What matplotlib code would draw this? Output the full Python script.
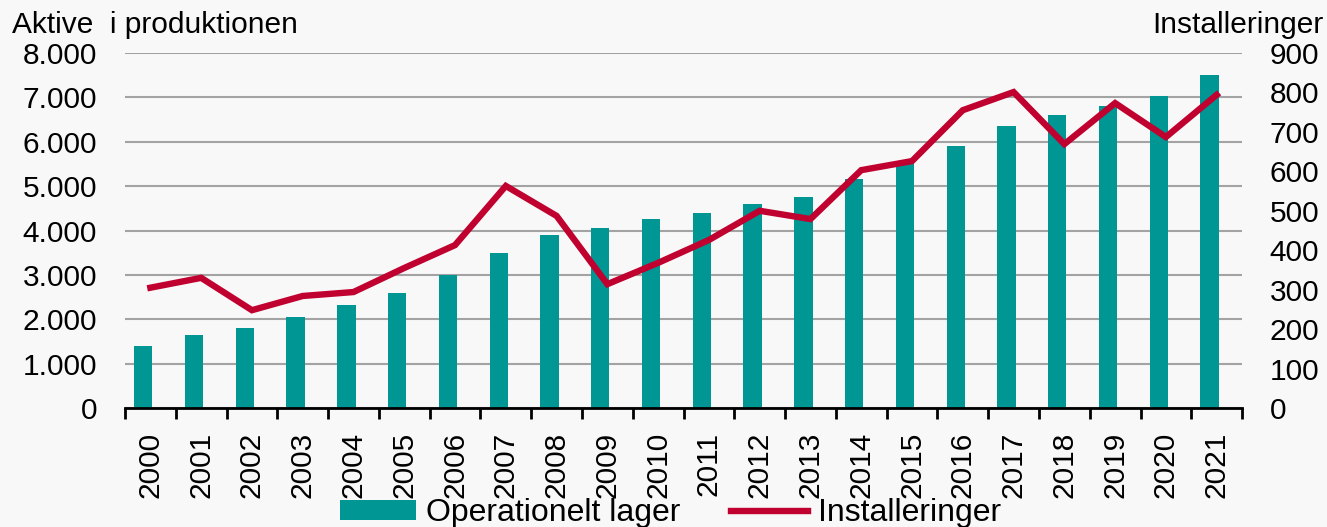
import matplotlib.pyplot as plt
import numpy as np
from matplotlib.ticker import FuncFormatter, FixedLocator

years = [str(y) for y in range(2000, 2022)]
# operational stock (left axis)
lager = [1400, 1650, 1800, 2050, 2330, 2600, 3000, 3500, 3900, 4050, 4250,
         4400, 4600, 4750, 5150, 5500, 5900, 6350, 6600, 6800, 7030, 7500]
# installations (right axis)
install = [305, 330, 248, 284, 294, 355, 413, 563, 487, 314, 368,
           426, 500, 479, 603, 626, 755, 801, 669, 773, 687, 794]

teal = "#009694"
red = "#c0002f"
bg = "#f7f8f7"

plt.rcParams['font.family'] = ['Liberation Sans', 'DejaVu Sans']
plt.rcParams['font.size'] = 21.5

fig = plt.figure(figsize=(13.27, 5.27), dpi=100, facecolor=bg)
ax = fig.add_axes([0.0942, 0.2258, 0.8418, 0.6736])
ax.set_facecolor(bg)
x = np.arange(len(years))

ax.bar(x - 0.14, lager, width=0.36, color=teal, zorder=2, label="Operationelt lager")
ax.set_ylim(0, 8000)
ax.set_xlim(-0.5, len(years) - 0.5)
ax.set_yticks(range(0, 8001, 1000))
ax.yaxis.set_major_formatter(FuncFormatter(lambda v, p: f"{int(v):,}".replace(",", ".")))
ax.grid(axis="y", color="#a3a3a3", linewidth=1.5, zorder=0)
ax.tick_params(axis="y", length=0, pad=20)

ax.set_xticks(x)
ax.set_xticklabels(years, rotation=90)
ax.xaxis.set_minor_locator(FixedLocator(np.arange(-0.5, len(years), 1)))
ax.tick_params(axis="x", which="major", length=0, pad=17)
ax.tick_params(axis="x", which="minor", length=8, width=2, color="black")

for s in ["left", "right", "top"]:
    ax.spines[s].set_visible(False)
ax.spines["bottom"].set_linewidth(2)

ax2 = ax.twinx()
ax2.plot(x, install, color=red, linewidth=4.6, zorder=3, label="Installeringer",
         solid_joinstyle="miter")
ax2.set_ylim(0, 900)
ax2.set_yticks(range(0, 901, 100))
ax2.tick_params(axis="y", length=0, pad=20)
for s in ["left", "right", "top", "bottom"]:
    ax2.spines[s].set_visible(False)

fig.text(0.009, 0.952, "Aktive  i produktionen", ha="left", va="center")
fig.text(0.997, 0.952, "Installeringer", ha="right", va="center")

h1, l1 = ax.get_legend_handles_labels()
h2, l2 = ax2.get_legend_handles_labels()
fig.legend(h1 + h2, l1 + l2, loc="center", bbox_to_anchor=(0.505, 0.026), ncol=2,
           frameon=False, handlelength=2.4, handleheight=0.6, columnspacing=1.6,
           handletextpad=0.3, borderpad=0, fontsize=23)

fig.savefig("out.png", dpi=100, facecolor=bg)
